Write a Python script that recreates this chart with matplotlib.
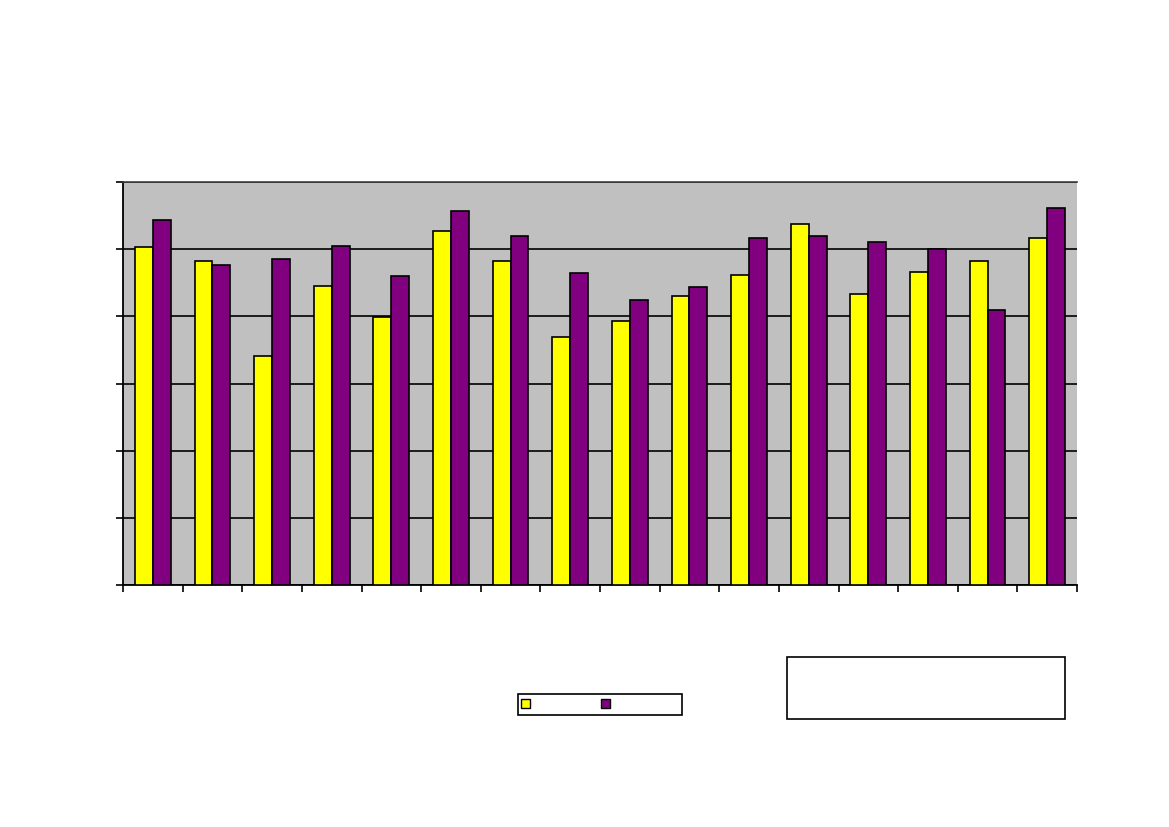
import matplotlib
matplotlib.use("Agg")
import matplotlib.pyplot as plt
import numpy as np
from matplotlib.patches import Rectangle, Patch

categories = [str(i) for i in range(1, 17)]
series_a = [5.03, 4.82, 3.41, 4.45, 3.99, 5.27, 4.82, 3.69, 3.93, 4.30, 4.62, 5.37, 4.33, 4.66, 4.82, 5.17]
series_b = [5.43, 4.76, 4.85, 5.05, 4.60, 5.57, 5.20, 4.64, 4.24, 4.44, 5.17, 5.20, 5.11, 5.00, 4.09, 5.61]
y_ticks = [0, 1, 2, 3, 4, 5, 6]

W, H = 1169, 827
fig = plt.figure(figsize=(W / 100, H / 100), dpi=100)
fig.patch.set_facecolor("white")
ax = fig.add_axes([123 / W, (H - 585) / H, 954 / W, 403 / H])
ax.set_facecolor("#C0C0C0")

x = np.arange(len(categories))
bw = 0.3
ax.bar(x - bw / 2, series_a, width=bw, color="#FFFF00", edgecolor="black", linewidth=1.2, zorder=3)
ax.bar(x + bw / 2, series_b, width=bw, color="#800080", edgecolor="black", linewidth=1.2, zorder=3)

ax.set_xlim(-0.5, len(categories) - 0.5)
ax.set_ylim(0, 6)
ax.set_yticks(y_ticks)
ax.set_yticklabels([])
ax.yaxis.grid(True, color="black", linewidth=1.2, zorder=1)
ax.set_axisbelow(True)
ax.set_xticks(np.arange(-0.5, len(categories), 1))
ax.set_xticklabels([])
ax.tick_params(axis="both", direction="out", length=5, width=1.2, color="black")

for s in ["left", "bottom"]:
    ax.spines[s].set_color("black")
    ax.spines[s].set_linewidth(1.3)
ax.spines["top"].set_color("#404040")
ax.spines["top"].set_linewidth(1.2)
ax.spines["right"].set_visible(False)

# legend frame
fig.add_artist(Rectangle((518 / W, (H - 715) / H), 164 / W, 21 / H,
                         transform=fig.transFigure, facecolor="white",
                         edgecolor="black", linewidth=1.2, zorder=1))
handles = [Patch(facecolor="#FFFF00", edgecolor="black", linewidth=1.0),
           Patch(facecolor="#800080", edgecolor="black", linewidth=1.0)]
leg = fig.legend(handles, ["", ""], loc="center left",
                 bbox_to_anchor=(520.5 / W, (H - 704.5) / H),
                 ncol=2, frameon=False,
                 handlelength=0.72, handleheight=0.72, handletextpad=0.0,
                 borderpad=0, borderaxespad=0, columnspacing=5.75, fontsize=9)
leg.set_zorder(2)

fig.add_artist(Rectangle((787 / W, (H - 719) / H), 278 / W, 62 / H,
                         transform=fig.transFigure, facecolor="white",
                         edgecolor="black", linewidth=1.2))

fig.savefig("out.png", dpi=100)
